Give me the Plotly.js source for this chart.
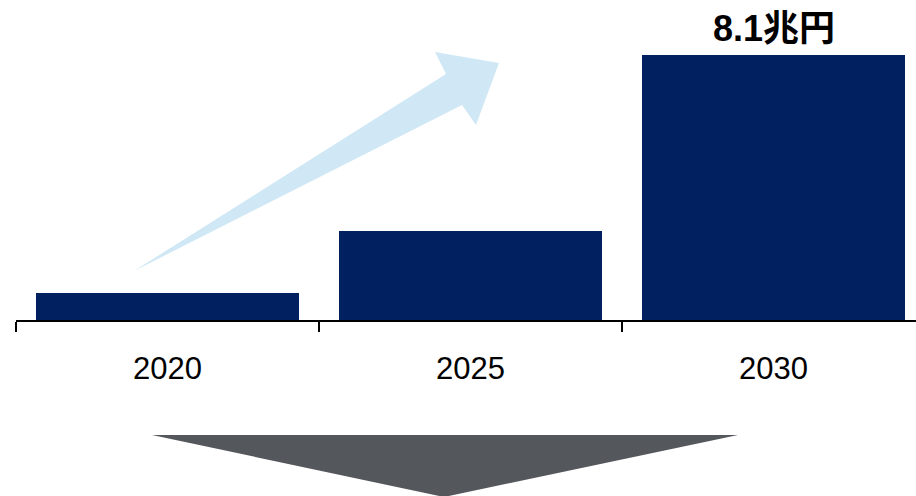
<!DOCTYPE html>
<html>
<head>
<meta charset="utf-8">
<script src="https://cdn.plot.ly/plotly-3.0.1.min.js"></script>
<style>html,body{margin:0;padding:0;background:#fff;}#chart{width:916px;height:496px;}</style>
</head>
<body>
<div id="chart"></div>
<script>
// Data
const years = ["2020", "2025", "2030"];
const marketValues = [0.82, 2.71, 8.1];
const labelTexts = ["", "", "8.1兆円"];

// Layout constants
const W = 916, H = 496;
const M = {l: 16, r: 0, t: 0, b: 176};
const plotW = W - M.l - M.r, plotH = H - M.t - M.b;

// Helper: pixel -> paper coords for decorative shapes
function toPaper(pts) {
  return 'M ' + pts.map(p => ((p[0] - M.l) / plotW).toFixed(5) + ',' + ((H - M.b - p[1]) / plotH).toFixed(5)).join(' L ') + ' Z';
}

const arrowPts = [[134, 271], [446, 74], [435, 52], [499, 63], [476, 125], [462, 105]];
const downPts = [[152, 435], [738, 435], [444, 497]];

const trace = {
  type: 'bar',
  x: years,
  y: marketValues,
  width: 0.87,
  marker: {color: '#002060', line: {width: 0}},
  hoverinfo: 'none'
};

const annotations = [];
years.forEach((yr, i) => {
  if (labelTexts[i]) {
    annotations.push({
      x: i, y: marketValues[i], xref: 'x', yref: 'y',
      text: '<b>' + labelTexts[i] + '</b>', showarrow: false,
      yanchor: 'bottom', yshift: 4,
      font: {family: 'Liberation Sans, Arial, Noto Sans CJK JP', size: 36, color: '#000'}
    });
  }
});

const layout = {
  width: W, height: H,
  margin: M,
  paper_bgcolor: '#fff', plot_bgcolor: '#fff',
  showlegend: false,
  bargap: 0,
  xaxis: {
    type: 'category',
    range: [-0.5, 2.47],
    showline: true, linecolor: '#000', linewidth: 2,
    ticks: 'outside', ticklen: 10, tickwidth: 2, tickcolor: '#000',
    tickson: 'boundaries',
    ticklabelstandoff: 20,
    showgrid: false, zeroline: false,
    tickfont: {family: 'Liberation Sans, Arial, sans-serif', size: 31, color: '#000'},
    fixedrange: true
  },
  yaxis: {
    range: [0, 9.78],
    visible: false, showgrid: false, zeroline: false, fixedrange: true
  },
  annotations: annotations,
  shapes: [
    {type: 'path', xref: 'paper', yref: 'paper', path: toPaper(arrowPts), fillcolor: '#D0E8F5', line: {width: 0}, layer: 'below'},
    {type: 'path', xref: 'paper', yref: 'paper', path: toPaper(downPts), fillcolor: '#54575C', line: {width: 0}, layer: 'above'}
  ]
};

Plotly.newPlot('chart', [trace], layout, {displayModeBar: false, staticPlot: true});
</script>
</body>
</html>
